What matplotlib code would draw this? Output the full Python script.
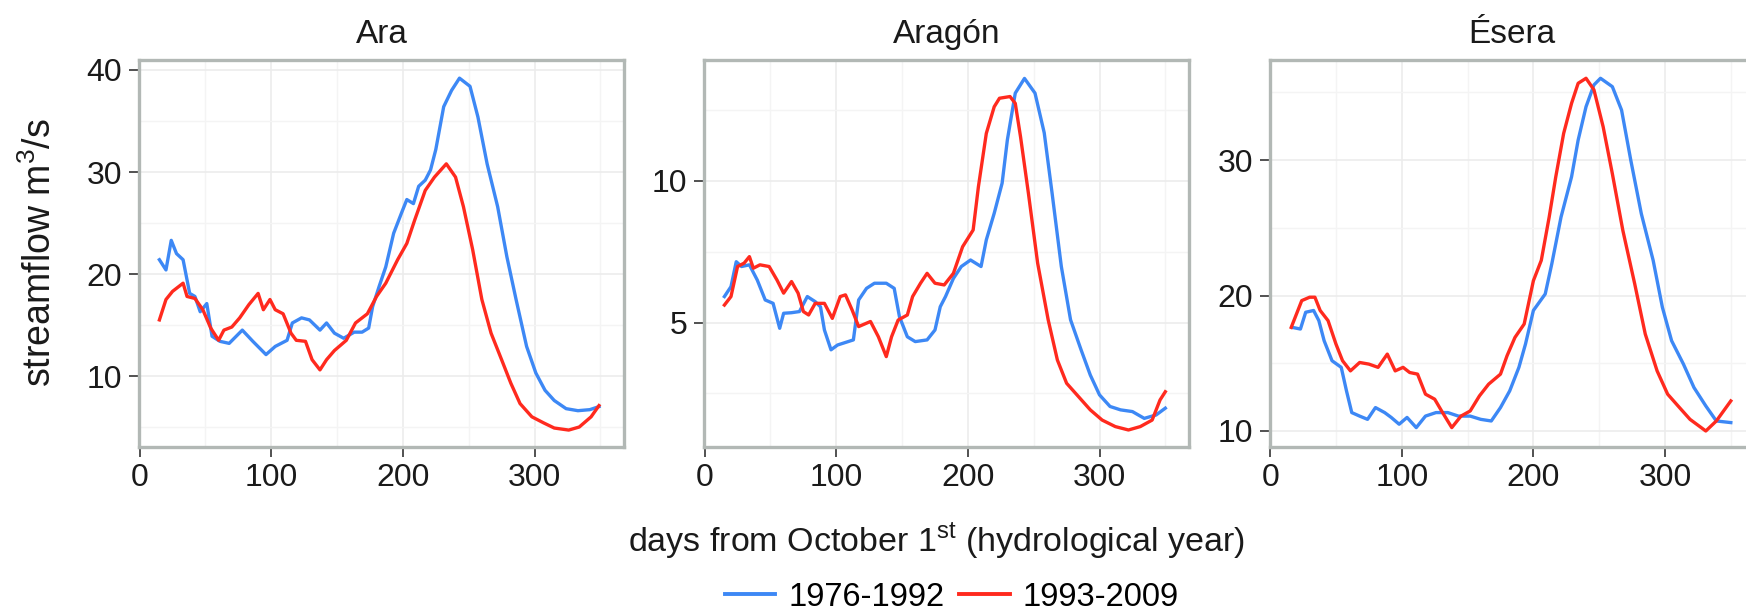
import matplotlib
matplotlib.use('Agg')
import matplotlib.pyplot as plt
from matplotlib.lines import Line2D

plt.rcParams['font.family'] = ['Liberation Sans', 'DejaVu Sans']
plt.rcParams['mathtext.fontset'] = 'custom'
plt.rcParams['mathtext.rm'] = 'Liberation Sans'

# Ara
ara_days_a = [15, 20, 24, 28, 33, 38, 42, 46, 51, 55, 61, 68, 78, 86, 96, 103, 112, 116, 123, 129,
              137, 142, 148, 155, 163, 169, 174, 177, 182, 187, 193, 199, 203, 208, 212, 217, 221,
              225, 231, 237, 243, 251, 257, 264, 272, 279, 286, 294, 301, 308, 315, 324, 333, 342, 349]
ara_flow_a = [21.4, 20.4, 23.3, 22.0, 21.4, 18.1, 17.8, 16.3, 17.1, 13.9, 13.4, 13.2, 14.5, 13.4, 12.1,
              12.9, 13.5, 15.2, 15.7, 15.5, 14.5, 15.2, 14.2, 13.7, 14.3, 14.3, 14.7, 16.8, 18.8, 20.7,
              24.0, 26.0, 27.3, 26.9, 28.6, 29.2, 30.2, 32.2, 36.4, 38.0, 39.2, 38.4, 35.4, 30.8, 26.6,
              21.7, 17.5, 12.9, 10.3, 8.6, 7.6, 6.8, 6.6, 6.7, 7.0]
ara_days_b = [15, 20, 25, 33, 36, 42, 48, 54, 60, 64, 70, 76, 83, 90, 94, 99, 103, 109, 115, 119,
              126, 131, 137, 142, 148, 157, 164, 173, 180, 187, 196, 203, 209, 217, 224, 233, 240,
              246, 253, 260, 267, 275, 282, 289, 298, 307, 315, 326, 334, 343, 349]
ara_flow_b = [15.5, 17.5, 18.3, 19.1, 17.8, 17.6, 16.5, 14.7, 13.5, 14.5, 14.8, 15.7, 17.0, 18.1, 16.5,
              17.5, 16.5, 16.1, 14.2, 13.5, 13.4, 11.6, 10.6, 11.6, 12.5, 13.5, 15.2, 16.1, 17.8, 19.1,
              21.4, 23.0, 25.3, 28.2, 29.5, 30.8, 29.5, 26.6, 22.4, 17.5, 14.2, 11.6, 9.3, 7.3, 6.0,
              5.4, 4.9, 4.7, 5.0, 6.0, 7.1]

# Aragon
arg_days_a = [15, 20, 24, 28, 34, 40, 46, 52, 57, 60, 66, 72, 78, 84, 88, 91, 96, 101, 109, 113, 117,
              123, 129, 138, 144, 148, 154, 160, 169, 175, 179, 183, 189, 195, 202, 210, 214, 220,
              226, 230, 236, 243, 251, 258, 264, 271, 278, 286, 293, 300, 308, 316, 325, 334, 343, 350]
arg_flow_a = [5.92, 6.27, 7.15, 6.98, 7.04, 6.5, 5.8, 5.68, 4.8, 5.33, 5.35, 5.39, 5.92, 5.74, 5.56,
              4.74, 4.04, 4.21, 4.33, 4.39, 5.8, 6.21, 6.39, 6.39, 6.21, 5.21, 4.5, 4.33, 4.39, 4.74,
              5.56, 5.92, 6.56, 6.98, 7.21, 6.98, 7.92, 8.86, 9.92, 11.45, 13.1, 13.62, 13.1, 11.7,
              9.56, 6.98, 5.1, 4.04, 3.15, 2.45, 2.04, 1.92, 1.86, 1.62, 1.74, 1.98]
arg_days_b = [15, 20, 25, 30, 34, 37, 42, 49, 55, 60, 66, 71, 75, 79, 84, 91, 97, 103, 107, 112, 117,
              126, 132, 138, 142, 147, 154, 158, 164, 169, 175, 182, 189, 196, 204, 208, 214, 220,
              224, 232, 236, 240, 246, 253, 261, 268, 275, 284, 293, 302, 312, 322, 331, 340, 346, 350]
arg_flow_b = [5.62, 5.92, 6.98, 7.1, 7.33, 6.92, 7.04, 6.98, 6.5, 6.04, 6.45, 6.04, 5.39, 5.27, 5.68,
              5.68, 5.15, 5.92, 5.98, 5.45, 4.86, 5.04, 4.5, 3.8, 4.5, 5.09, 5.27, 5.92, 6.39, 6.74,
              6.39, 6.33, 6.74, 7.68, 8.27, 9.8, 11.68, 12.62, 12.92, 12.98, 12.74, 11.56, 9.56, 7.1,
              5.1, 3.68, 2.86, 2.39, 1.92, 1.56, 1.33, 1.21, 1.33, 1.56, 2.27, 2.56]

# Esera
es_days_a = [17, 23, 27, 33, 37, 41, 47, 54, 58, 62, 68, 74, 80, 87, 92, 98, 104, 111, 118, 126, 135,
             143, 152, 160, 168, 175, 182, 189, 194, 200, 209, 214, 221, 229, 234, 240, 246, 251, 260,
             267, 274, 282, 291, 298, 305, 314, 322, 331, 339, 350]
es_flow_a = [17.65, 17.53, 18.77, 18.9, 18.15, 16.67, 15.19, 14.7, 12.96, 11.36, 11.1, 10.86, 11.73,
             11.36, 11.0, 10.5, 11.0, 10.25, 11.1, 11.36, 11.36, 11.1, 11.1, 10.86, 10.74, 11.73, 12.96,
             14.7, 16.42, 18.9, 20.12, 22.35, 25.8, 28.77, 31.48, 33.95, 35.56, 36.05, 35.43, 33.7,
             30.0, 26.05, 22.6, 19.14, 16.67, 14.94, 13.21, 11.85, 10.74, 10.62]
es_days_b = [16, 20, 24, 30, 34, 38, 44, 50, 55, 61, 68, 75, 82, 89, 95, 101, 106, 112, 118, 125, 131,
             138, 145, 152, 159, 166, 175, 180, 186, 193, 200, 206, 212, 217, 223, 229, 234, 240, 246,
             253, 260, 268, 277, 285, 294, 302, 311, 319, 331, 339, 350]
es_flow_b = [17.65, 18.64, 19.63, 19.88, 19.88, 18.9, 18.15, 16.42, 15.19, 14.44, 15.06, 14.94, 14.7,
             15.68, 14.44, 14.7, 14.32, 14.2, 12.72, 12.35, 11.36, 10.25, 11.1, 11.48, 12.59, 13.46,
             14.2, 15.56, 16.91, 17.9, 21.1, 22.6, 25.8, 28.77, 31.98, 34.2, 35.68, 36.05, 35.2, 32.47,
             29.0, 24.8, 20.86, 17.16, 14.44, 12.72, 11.73, 10.86, 10.0, 10.74, 12.22]

rivers = ['Ara', 'Aragón', 'Ésera']
periods = ['1976-1992', '1993-2009']
colors = ['#3d88f5', '#ff2a1e']
series = [
    (ara_days_a, ara_flow_a, ara_days_b, ara_flow_b),
    (arg_days_a, arg_flow_a, arg_days_b, arg_flow_b),
    (es_days_a, es_flow_a, es_days_b, es_flow_b),
]
ylims = [(3.07, 40.98), (0.62, 14.27), (8.84, 37.4)]
yticks = [[10, 20, 30, 40], [5, 10], [10, 20, 30]]
yminor = [[5, 15, 25, 35], [2.5, 7.5, 12.5], [15, 25, 35]]
lefts = [139, 704, 1269.5]

W, H = 1746, 611
fig = plt.figure(figsize=(W / 100, H / 100), dpi=100)

for i, river in enumerate(rivers):
    ax = fig.add_axes([lefts[i] / W, (H - 446.7) / H, 485 / W, 386.7 / H])
    da, fa, db, fb = series[i]
    ax.plot(da, fa, color=colors[0], lw=2.4, zorder=3)
    ax.plot(db, fb, color=colors[1], lw=2.4, zorder=3)
    ax.set_xlim(-0.5, 368)
    ax.set_ylim(*ylims[i])
    ax.set_xticks([0, 100, 200, 300])
    ax.set_yticks(yticks[i])
    ax.set_xticks([50, 150, 250, 350], minor=True)
    ax.set_yticks(yminor[i], minor=True)
    ax.grid(which='major', color='#ececec', lw=1.2)
    ax.grid(which='minor', color='#f4f4f4', lw=1.0)
    ax.set_axisbelow(True)
    ax.tick_params(which='minor', length=0)
    ax.tick_params(which='major', length=7, width=1.2, color='#333333',
                   labelsize=23, labelcolor='#1a1a1a', pad=5)
    for s in ax.spines.values():
        s.set_color('#b2b8b5')
        s.set_linewidth(2.4)
    ax.set_title(river, fontsize=24, pad=12, color='#1a1a1a')

fig.text(40 / W, 1 - 253 / H, 'streamflow m$^3$/s', rotation=90, ha='center', va='center',
         fontsize=27, color='#1a1a1a')
fig.text(936 / W, 1 - 541 / H, r'days from October 1$^{\mathrm{st}}$ (hydrological year)',
         ha='center', va='center', fontsize=24.5, color='#1a1a1a')

handles = [Line2D([], [], color=c, lw=2.8) for c in colors]
fig.legend(handles, periods, loc='center', bbox_to_anchor=(952 / W, 1 - 597 / H), ncol=2,
           frameon=False, fontsize=23.5, handlelength=1.55, handletextpad=0.4, columnspacing=0.45,
           borderpad=0, borderaxespad=0)

fig.savefig('out.png', dpi=100)
